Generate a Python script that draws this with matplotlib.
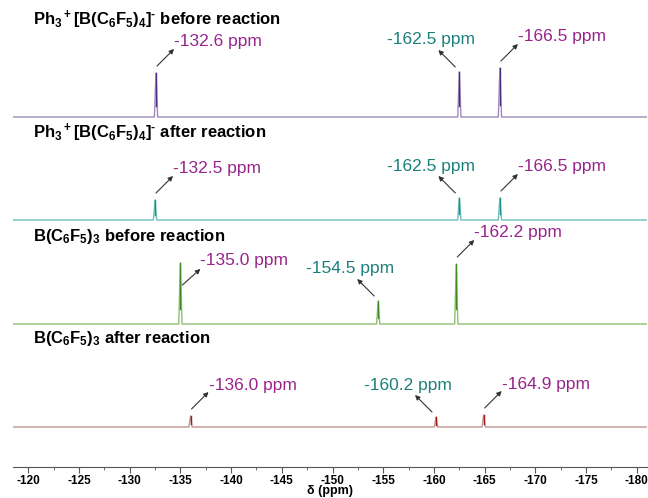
import matplotlib
matplotlib.use("Agg")
import matplotlib.pyplot as plt
from matplotlib.ticker import MultipleLocator
from matplotlib.transforms import offset_copy

plt.rcParams['font.family'] = ['Liberation Sans', 'DejaVu Sans']
plt.rcParams['mathtext.fontset'] = 'custom'
plt.rcParams['mathtext.bf'] = 'Liberation Sans:bold'
plt.rcParams['mathtext.rm'] = 'Liberation Sans:bold'
plt.rcParams['mathtext.default'] = 'bf'
plt.rcParams['axes.unicode_minus'] = False

# data
titles = ['Ph$_3$$^+$[B(C$_6$F$_5$)$_4$]$^{\u2010}$ before reaction',
          'Ph$_3$$^+$[B(C$_6$F$_5$)$_4$]$^{\u2010}$ after reaction',
          'B(C$_6$F$_5$)$_3$ before reaction',
          'B(C$_6$F$_5$)$_3$ after reaction']
offsets = [350, 247, 143, 40]
shifts = [[-132.6, -162.5, -166.5],
          [-132.5, -162.5, -166.5],
          [-135.0, -154.5, -162.2],
          [-136.0, -160.2, -164.9]]
heights = [[44, 45, 49],
           [20, 22, 22],
           [61, 23, 60],
           [11, 10, 12]]

line_cols = ['#9c8cb8', '#6cc0bb', '#8fc070', '#bf9590']
peak_cols = ['#4a2c80', '#1f8f88', '#3d8a22', '#a01818']
magenta = '#98248c'
teal = '#1b807b'
title_y = [20, 133, 237, 338]   # px from top

fig = plt.figure(figsize=(6.48, 4.98), dpi=100)
ax = fig.add_axes([13/648, 31/498, 634/648, 467/498])
xmin, xmax = -118.5, -181.0
w = 0.16

for i in range(4):
    b = offsets[i]
    xs = [xmin]
    ys = [b]
    for p, h in zip(shifts[i], heights[i]):
        xs += [p + w, p, p - w]
        ys += [b, b + h, b]
    xs.append(xmax)
    ys.append(b)
    ax.plot(xs, ys, color=line_cols[i], lw=1.0)
    for p, h in zip(shifts[i], heights[i]):
        ax.plot([p, p], [b + 0.25 * h, b + h], color=peak_cols[i], lw=1.0)

    for j, (p, h) in enumerate(zip(shifts[i], heights[i])):
        top = b + h
        label = f"{p:.1f} ppm"
        if j == 1:
            tail, head, txt, ha, col = (-4, 5), (-21, 22), (16, 32), 'right', teal
        elif i == 2 and j == 0:
            tail, head, txt, ha, col = (2, -22), (20, -6), (20, 3), 'left', magenta
        else:
            tail, head, txt, ha, col = (1, 7), (18, 24), (18, 31), 'left', magenta
        tr_tail = offset_copy(ax.transData, fig=fig, x=tail[0], y=tail[1], units='dots')
        tr_head = offset_copy(ax.transData, fig=fig, x=head[0], y=head[1], units='dots')
        tr_txt = offset_copy(ax.transData, fig=fig, x=txt[0], y=txt[1], units='dots')
        ax.annotate('', xy=(p, top), xycoords=tr_head, xytext=(p, top), textcoords=tr_tail,
                    arrowprops=dict(arrowstyle='-|>', color='#333333', lw=0.8,
                                    mutation_scale=7, shrinkA=0, shrinkB=0))
        ax.text(p, top, label, transform=tr_txt, ha=ha, va='center',
                color=col, fontsize=12.5)

    fig.text(33/648, 1 - title_y[i]/498, titles[i], fontsize=12, fontweight='bold',
             va='center', ha='left')

ax.set_xlim(xmin, xmax)
ax.set_ylim(0, 467)
ax.set_yticks([])
for s in ['top', 'left', 'right']:
    ax.spines[s].set_visible(False)
ax.spines['bottom'].set_color('#555555')
ax.xaxis.set_major_locator(MultipleLocator(5))
ax.xaxis.set_minor_locator(MultipleLocator(2.5))
ax.tick_params(axis='x', which='major', length=4, color='#555555', pad=1.5, labelsize=8.5)
ax.tick_params(axis='x', which='minor', length=2, color='#555555')
for t in ax.get_xticklabels():
    t.set_fontweight('bold')
ax.set_xlabel('δ (ppm)', fontsize=9, fontweight='bold', labelpad=-1)

fig.savefig('out.png', dpi=100)
